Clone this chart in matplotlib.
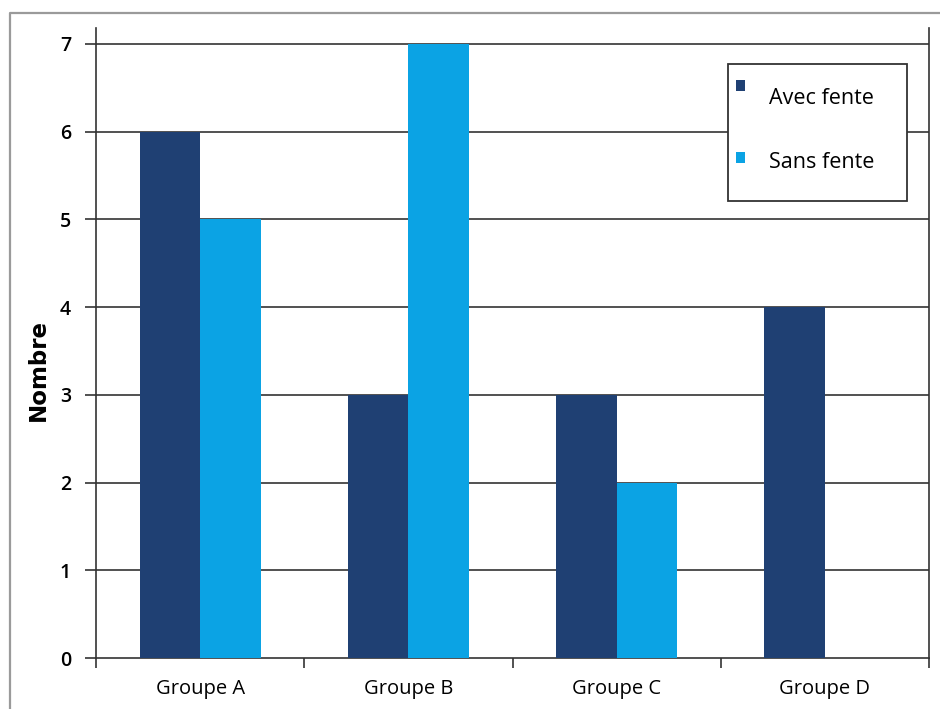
import numpy as np
import matplotlib
matplotlib.use('Agg')
import matplotlib.pyplot as plt
from matplotlib.patches import Rectangle
from matplotlib.lines import Line2D

groups = ['Groupe A', 'Groupe B', 'Groupe C', 'Groupe D']
avec_fente = [6, 3, 3, 4]
sans_fente = [5, 7, 2, 0]
series_names = ['Avec fente', 'Sans fente']
colors = ['#1F4073', '#0BA3E4']

W, H = 940, 709
fig = plt.figure(figsize=(W / 100, H / 100), dpi=100)


def fx(px):
    return px / W


def fy(py):
    return 1 - py / H


# outer frame (only left and top visible)
fig.add_artist(Line2D([fx(10), fx(10), fx(940)], [fy(709), fy(12.5), fy(12.5)],
                      transform=fig.transFigure, color='#9a9a9a', lw=1.6))

ax = fig.add_axes([fx(96), fy(658), fx(929) - fx(96), fy(28) - fy(658)])

x = np.arange(len(groups)) + 0.5
w = 0.29
ax.bar(x - w / 2, avec_fente, w, color=colors[0], zorder=3)
ax.bar(x + w / 2, sans_fente, w, color=colors[1], zorder=3)

ax.set_xlim(0, 4)
ax.set_ylim(0, 7.18)
ax.set_yticks(range(8))
for v in range(1, 8):
    ax.axhline(v, color='#333333', lw=1.2, zorder=1)

ax.set_xticks(x)
ax.set_xticklabels(groups, fontsize=14.5, family='Open Sans')
ax.set_xticks(np.arange(5), minor=True)
ax.tick_params(axis='x', which='major', length=0, pad=15)
ax.tick_params(axis='x', which='minor', length=7, width=1.2, color='#333333')
ax.tick_params(axis='y', length=8, width=1.2, color='#333333', pad=10)
for lab in ax.get_yticklabels():
    lab.set_fontsize(14)
    lab.set_family('Open Sans')
    lab.set_fontweight('semibold')

for s in ['left', 'right', 'bottom']:
    ax.spines[s].set_color('#333333')
    ax.spines[s].set_linewidth(1.2)
ax.spines['top'].set_visible(False)

fig.text(fx(38), fy(370), 'Nombre', rotation=90, ha='center', va='center',
         fontsize=16.5, fontweight='bold', family='DejaVu Sans')

# legend box
fig.add_artist(Rectangle((fx(728), fy(201)), fx(907) - fx(728), fy(64) - fy(201),
                         transform=fig.transFigure, facecolor='white',
                         edgecolor='#333333', lw=1.3, zorder=5))
for name, c, my, ty in zip(series_names, colors, [85, 157], [99, 162]):
    fig.add_artist(Rectangle((fx(736), fy(my + 5.5)), fx(9), fx(0) + 11 / H,
                             transform=fig.transFigure, facecolor=c,
                             edgecolor='none', zorder=6))
    fig.text(fx(769), fy(ty), name, ha='left', va='center', fontsize=15.5,
             family='Open Sans', zorder=7)

plt.savefig('out.png', dpi=100)
